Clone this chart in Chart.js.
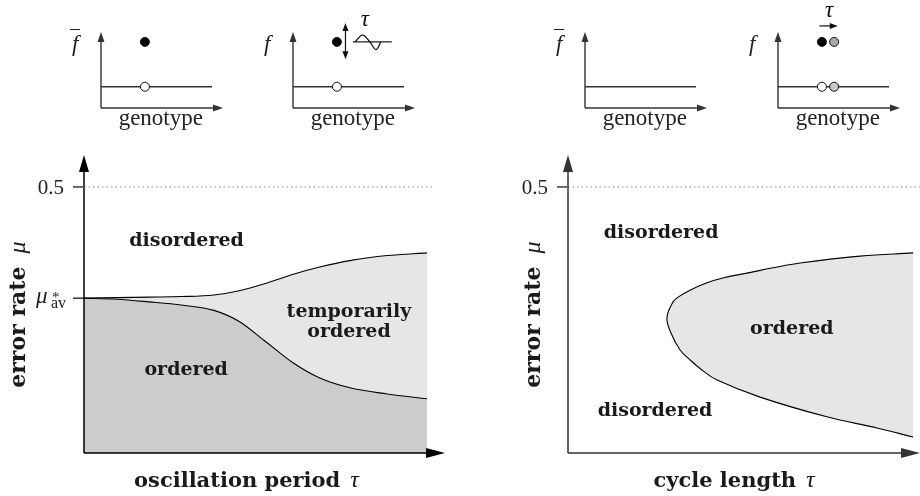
<!DOCTYPE html>
<html>
<head>
<meta charset="utf-8">
<script src="https://cdn.jsdelivr.net/npm/chart.js@4.4.1/dist/chart.umd.min.js"></script>
<style>
  body { margin: 0; background: #fff; width: 920px; height: 496px; position: relative; overflow: hidden; }
  canvas { position: absolute; }
</style>
</head>
<body>
<canvas id="inset1" width="175" height="135" style="left:56px;top:0"></canvas>
<canvas id="inset2" width="175" height="135" style="left:248px;top:0"></canvas>
<canvas id="inset3" width="175" height="135" style="left:540px;top:0"></canvas>
<canvas id="inset4" width="175" height="135" style="left:733px;top:0"></canvas>
<canvas id="phaseOsc" width="460" height="366" style="left:0;top:130px"></canvas>
<canvas id="phaseCycle" width="460" height="366" style="left:460px;top:130px"></canvas>
<script>
// ---- data ----
// left panel: phase boundaries vs oscillation period
const tauOsc     = [0, 0.9, 1.8, 2.7, 3.6, 4.3, 5.0, 5.8, 6.5, 7.4, 8.4, 9.5];
const muUpperOsc = [0.291, 0.292, 0.293, 0.294, 0.297, 0.305, 0.318, 0.336, 0.349, 0.362, 0.371, 0.376];
const muLowerOsc = [0.291, 0.289, 0.284, 0.278, 0.268, 0.247, 0.211, 0.169, 0.142, 0.122, 0.111, 0.102];
// right panel: ordered region, upper branch -> nose -> lower branch
const tauCycle = [9.56, 8.09, 6.43, 5.68, 4.96, 4.29, 3.85, 3.38, 3.05, 2.91, 2.74,
                  2.85, 3.10, 3.38, 3.71, 4.13, 5.32, 7.17, 8.56, 9.56];
const muCycle  = [0.376, 0.370, 0.357, 0.348, 0.338, 0.329, 0.320, 0.306, 0.293, 0.284, 0.254,
                  0.226, 0.194, 0.175, 0.156, 0.137, 0.105, 0.068, 0.047, 0.030];
const muHalf = 0.5;       // upper limit of error rate
const muAvStar = 0.291;   // mu*_av
const refLineOsc = [0, 9.72];
const refLineCycle = [0, 9.75];

// insets: fitness landscapes over genotype
const flatLine = [0, 0.91];
const fitLow = 0.28;
const fitHigh = 0.87;
const masterX = 0.36;
const shiftedX = 0.46;
const sineAxis = [0.49, 0.81];
const sineX = [0.51, 0.57, 0.63, 0.68, 0.72];
const sineY = [0.87, 0.96, 0.87, 0.77, 0.87];

const SERIF = '"Liberation Serif", "DejaVu Serif", serif';
const BOLD = 'bold 19px "DejaVu Serif", serif';
const ITAL = 'italic 23px ' + SERIF;

const pts = (xs, ys) => xs.map((v, i) => ({x: v, y: Array.isArray(ys) ? ys[i] : ys}));

function arrow(ctx, x, y, dx, dy, len, half) {
  // tip at (x, y), pointing along (dx, dy)
  ctx.beginPath();
  ctx.moveTo(x, y);
  ctx.lineTo(x - dx * len - dy * half, y - dy * len + dx * half);
  ctx.lineTo(x - dx * len + dy * half, y - dy * len - dx * half);
  ctx.closePath();
  ctx.fill();
}

function drawRuns(ctx, runs, x, y, align) {
  let w = 0;
  runs.forEach(r => { ctx.font = r.font; w += ctx.measureText(r.t).width + (r.gap || 0); });
  let cx = align === 'center' ? x - w / 2 : (align === 'right' ? x - w : x);
  ctx.textAlign = 'left';
  runs.forEach(r => { ctx.font = r.font; ctx.fillText(r.t, cx, y); cx += ctx.measureText(r.t).width + (r.gap || 0); });
}

// axes, ticks, region names and titles of a phase diagram
function phaseAxes(cfg) {
  return {
    id: 'phaseAxes',
    afterDraw(chart) {
      const {ctx, chartArea: a, scales: {x, y}} = chart;
      const x0 = x.getPixelForValue(0), y0 = y.getPixelForValue(0);
      ctx.save();
      ctx.strokeStyle = ctx.fillStyle = cfg.axisColor;
      ctx.lineWidth = 1.5;
      ctx.beginPath();
      ctx.moveTo(x0, y0); ctx.lineTo(x0, a.top + 10);
      ctx.moveTo(x0, y0); ctx.lineTo(a.right - 10, y0);
      ctx.stroke();
      arrow(ctx, x0, a.top, 0, -1, 17, 5);
      arrow(ctx, a.right, y0, 1, 0, 19, 5);

      const yh = y.getPixelForValue(muHalf);
      ctx.strokeStyle = '#666'; ctx.lineWidth = 2;
      ctx.beginPath(); ctx.moveTo(x0 - 11, yh); ctx.lineTo(x0, yh); ctx.stroke();
      ctx.fillStyle = '#222';
      ctx.font = '21px ' + SERIF; ctx.textAlign = 'right';
      ctx.fillText('0.5', x0 - 20, yh + 7);

      if (cfg.showMuAv) {
        const ym = y.getPixelForValue(muAvStar);
        ctx.strokeStyle = '#000'; ctx.lineWidth = 1.2;
        ctx.beginPath(); ctx.moveTo(x0 - 11, ym); ctx.lineTo(x0, ym); ctx.stroke();
        ctx.textAlign = 'left';
        ctx.font = ITAL; ctx.fillText('\u03bc', x0 - 48, ym + 5);
        ctx.font = '15px ' + SERIF; ctx.fillText('*', x0 - 32, ym + 4);
        ctx.font = '16px ' + SERIF; ctx.fillText('av', x0 - 33, ym + 10);
      }

      ctx.fillStyle = '#1a1a1a'; ctx.font = BOLD; ctx.textAlign = 'center';
      cfg.labels.forEach(l => ctx.fillText(l.text, x.getPixelForValue(l.x), y.getPixelForValue(l.y)));

      drawRuns(ctx, [{t: cfg.xTitle, font: 'bold 21px "DejaVu Serif", serif', gap: 10}, {t: '\u03c4', font: 'italic 24px ' + SERIF}],
        x.getPixelForValue(cfg.xTitleAt), y0 + 34, 'center');
      ctx.translate(x0 - cfg.yTitleOffset, y.getPixelForValue(0.26));
      ctx.rotate(-Math.PI / 2);
      drawRuns(ctx, [{t: 'error rate', font: 'bold 22px "DejaVu Serif", serif', gap: 13}, {t: '\u03bc', font: 'italic 24px ' + SERIF}], 0, 0, 'center');
      ctx.restore();
    }
  };
}

function phaseOptions(xMax, padLeft, padRight) {
  return {
    responsive: false,
    animation: false,
    layout: {padding: {left: padLeft, right: padRight, top: 25, bottom: 43}},
    plugins: {legend: {display: false}, tooltip: {enabled: false}},
    elements: {point: {radius: 0}},
    scales: {
      x: {type: 'linear', min: 0, max: xMax, display: false},
      y: {type: 'linear', min: 0, max: 0.56, display: false}
    }
  };
}

const dotted = xs => ({data: pts(xs, muHalf), borderColor: '#888', borderWidth: 1, borderDash: [1.5, 3], fill: false});

new Chart(document.getElementById('phaseOsc'), {
  type: 'line',
  data: {
    datasets: [
      {data: pts(tauOsc, muLowerOsc), borderColor: '#000', borderWidth: 1.1, backgroundColor: '#cccccc',
       fill: 'origin', cubicInterpolationMode: 'monotone'},
      {data: pts(tauOsc, muUpperOsc), borderColor: '#000', borderWidth: 1.1, backgroundColor: '#e6e6e6',
       fill: '-1', cubicInterpolationMode: 'monotone'},
      dotted(refLineOsc)
    ]
  },
  options: phaseOptions(10, 84, 15),
  plugins: [phaseAxes({
    axisColor: '#000', showMuAv: true, xTitle: 'oscillation period', xTitleAt: 4.5, yTitleOffset: 59,
    labels: [
      {text: 'disordered', x: 2.84, y: 0.389},
      {text: 'temporarily', x: 7.34, y: 0.256},
      {text: 'ordered', x: 7.34, y: 0.218},
      {text: 'ordered', x: 2.83, y: 0.147}
    ]
  })]
});

new Chart(document.getElementById('phaseCycle'), {
  type: 'line',
  data: {
    datasets: [
      {data: pts(tauCycle, muCycle), borderColor: '#000', borderWidth: 1.1, backgroundColor: '#e6e6e6',
       fill: 'shape', tension: 0.4},
      dotted(refLineCycle)
    ]
  },
  options: phaseOptions(9.75, 108, 0),
  plugins: [phaseAxes({
    axisColor: '#333', showMuAv: false, xTitle: 'cycle length', xTitleAt: 4.6, yTitleOffset: 28,
    labels: [
      {text: 'disordered', x: 2.58, y: 0.404},
      {text: 'ordered', x: 6.2, y: 0.224},
      {text: 'disordered', x: 2.41, y: 0.070}
    ]
  })]
});

// ---- insets ----
function insetDeco(cfg) {
  return {
    id: 'insetDeco',
    afterDraw(chart) {
      const {ctx, chartArea: a, scales: {x, y}} = chart;
      const x0 = x.getPixelForValue(0), y0 = y.getPixelForValue(0);
      ctx.save();
      ctx.strokeStyle = ctx.fillStyle = '#333';
      ctx.lineWidth = 1.4;
      ctx.beginPath();
      ctx.moveTo(x0, y0); ctx.lineTo(x0, a.top + 6);
      ctx.moveTo(x0, y0); ctx.lineTo(a.right - 6, y0);
      ctx.stroke();
      arrow(ctx, x0, a.top, 0, -1, 10, 3.5);
      arrow(ctx, a.right, y0, 1, 0, 10, 3.5);

      ctx.fillStyle = '#222';
      ctx.font = '23px ' + SERIF; ctx.textAlign = 'center';
      ctx.fillText('genotype', x.getPixelForValue(0.49), y0 + 17);
      ctx.font = ITAL; ctx.textAlign = 'left';
      ctx.fillText('f', x0 - 29, 51);
      if (cfg.bar) {
        ctx.strokeStyle = '#222'; ctx.lineWidth = 1;
        ctx.beginPath(); ctx.moveTo(x0 - 31, 29.5); ctx.lineTo(x0 - 21, 29.5); ctx.stroke();
      }
      ctx.fillStyle = ctx.strokeStyle = '#111';
      if (cfg.double) {
        const d = cfg.double, px = x.getPixelForValue(d.x);
        const p1 = y.getPixelForValue(d.y1), p2 = y.getPixelForValue(d.y2);
        ctx.lineWidth = 1.2;
        ctx.beginPath(); ctx.moveTo(px, p1 + 5); ctx.lineTo(px, p2 - 5); ctx.stroke();
        arrow(ctx, px, p1, 0, -1, 8, 3);
        arrow(ctx, px, p2, 0, 1, 8, 3);
      }
      if (cfg.shift) {
        const s = cfg.shift, py = y.getPixelForValue(s.y);
        const p1 = x.getPixelForValue(s.x1), p2 = x.getPixelForValue(s.x2);
        ctx.lineWidth = 1.2;
        ctx.beginPath(); ctx.moveTo(p1, py); ctx.lineTo(p2 - 5, py); ctx.stroke();
        arrow(ctx, p2, py, 1, 0, 8, 3);
      }
      if (cfg.tau) {
        ctx.font = ITAL; ctx.textAlign = 'center'; ctx.textBaseline = 'middle';
        ctx.fillText('\u03c4', x.getPixelForValue(cfg.tau.x), y.getPixelForValue(cfg.tau.y));
      }
      ctx.restore();
    }
  };
}

function insetChart(id, datasets, deco) {
  new Chart(document.getElementById(id), {
    type: 'line',
    data: {datasets},
    options: {
      responsive: false,
      animation: false,
      layout: {padding: {left: 45, right: 8, top: 32, bottom: 27}},
      plugins: {legend: {display: false}, tooltip: {enabled: false}},
      scales: {
        x: {type: 'linear', min: 0, max: 1, display: false},
        y: {type: 'linear', min: 0, max: 1, display: false}
      }
    },
    plugins: [insetDeco(deco)]
  });
}

const landscape = () => ({data: pts(flatLine, fitLow), borderColor: '#333', borderWidth: 1.4, pointRadius: 0, fill: false});
const dot = (xs, ys, colors) => ({
  data: pts(xs, ys), showLine: false, pointRadius: 4.5, pointBorderWidth: 1,
  pointBorderColor: '#111', pointBackgroundColor: colors
});

insetChart('inset1', [
  dot([masterX, masterX], [fitLow, fitHigh], ['#ffffff', '#000000']),
  landscape()
], {bar: true});

insetChart('inset2', [
  dot([masterX, masterX], [fitLow, fitHigh], ['#ffffff', '#000000']),
  {data: pts(sineX, sineY), borderColor: '#111', borderWidth: 1.2, pointRadius: 0, tension: 0.4, fill: false},
  {data: pts(sineAxis, fitHigh), borderColor: '#222', borderWidth: 1.2, pointRadius: 0, fill: false},
  landscape()
], {bar: false, double: {x: 0.43, y1: 1.12, y2: 0.64}, tau: {x: 0.59, y: 1.16}});

insetChart('inset3', [landscape()], {bar: true});

insetChart('inset4', [
  dot([masterX, shiftedX, masterX, shiftedX], [fitLow, fitLow, fitHigh, fitHigh], ['#ffffff', '#c8c8c8', '#000000', '#a8a8a8']),
  landscape()
], {bar: false, shift: {x1: 0.34, x2: 0.49, y: 1.08}, tau: {x: 0.42, y: 1.28}});
</script>
</body>
</html>
